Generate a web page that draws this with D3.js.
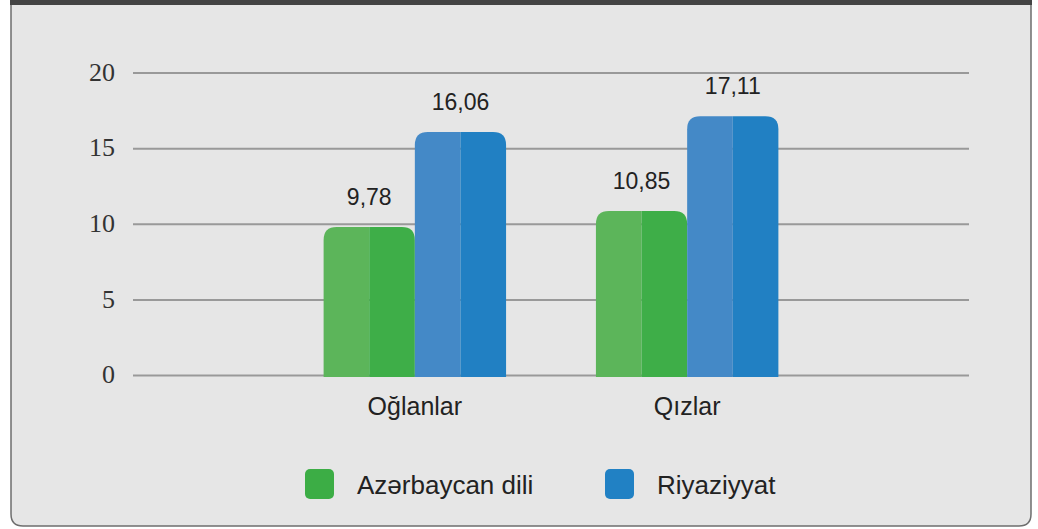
<!DOCTYPE html>
<html>
<head>
<meta charset="utf-8">
<script src="https://cdn.jsdelivr.net/npm/d3@7"></script>
<style>
  body { margin: 0; background: #fff; }
  svg { display: block; }
</style>
</head>
<body>
<div id="chart"></div>
<script>
var svgWidth = 1038;
var svgHeight = 529;

// data
var categories = ["Oğlanlar", "Qızlar"];
var seriesNames = ["Azərbaycan dili", "Riyaziyyat"];
var azValues = [9.78, 10.85];
var riyValues = [16.06, 17.11];
var yTicks = [0, 5, 10, 15, 20];

var lightColors = ["#5cb55a", "#4489c7"];
var darkColors = ["#3eae48", "#2180c3"];
var legendColors = ["#3cad45", "#2181c4"];

var margin = { top: 72.5, right: 69, bottom: 154, left: 133 };
var width = svgWidth - margin.left - margin.right;
var height = svgHeight - margin.top - margin.bottom;

var svg = d3.select("#chart")
  .append("svg")
  .attr("width", svgWidth)
  .attr("height", svgHeight);

// panel background
svg.append("path")
  .attr("d", "M11,0 H1031 V514 Q1031,526 1019,526 H23 Q11,526 11,514 Z")
  .attr("fill", "#e6e6e6")
  .attr("stroke", "#6e6e6e")
  .attr("stroke-width", 1.5);
svg.append("rect")
  .attr("x", 10)
  .attr("y", 0)
  .attr("width", 1022)
  .attr("height", 5)
  .attr("fill", "#444");

var chartGroup = svg.append("g")
  .attr("transform", `translate(${margin.left}, ${margin.top})`);

var x0 = d3.scaleBand()
  .domain(categories)
  .range([0, width])
  .paddingInner(0.33)
  .paddingOuter(0.7);

var x1 = d3.scaleBand()
  .domain(seriesNames)
  .range([0, x0.bandwidth()]);

var yLinearScale = d3.scaleLinear()
  .domain([0, 20])
  .range([height, 0]);

// gridlines + tick labels
var leftAxis = d3.axisLeft(yLinearScale)
  .tickValues(yTicks)
  .tickSize(-width)
  .tickPadding(18);

var yAxis = chartGroup.append("g").call(leftAxis);
yAxis.select(".domain").remove();
yAxis.selectAll(".tick line")
  .attr("stroke", "#999")
  .attr("stroke-width", 2);
yAxis.selectAll(".tick text")
  .attr("font-family", "'Liberation Serif', 'Times New Roman', serif")
  .attr("font-size", 26)
  .attr("fill", "#333")
  .attr("dy", "0.3em");

// bars: two-tone with rounded top corners
var rr = 13;
function halfBar(xl, xr, yt, yb, side) {
  if (side === "left") {
    return `M${xl},${yb} V${yt + rr} Q${xl},${yt} ${xl + rr},${yt} H${xr} V${yb} Z`;
  }
  return `M${xl},${yb} V${yt} H${xr - rr} Q${xr},${yt} ${xr},${yt + rr} V${yb} Z`;
}

var rows = categories.map(function(c, i) {
  return { cat: c, vals: [azValues[i], riyValues[i]] };
});

var groups = chartGroup.selectAll(".grp")
  .data(rows)
  .enter()
  .append("g")
  .attr("transform", d => `translate(${x0(d.cat)}, 0)`);

groups.each(function(d) {
  var g = d3.select(this);
  d.vals.forEach(function(v, j) {
    var xl = x1(seriesNames[j]);
    var bw = x1.bandwidth();
    var yt = yLinearScale(v);
    var yb = yLinearScale(0) + 2;
    g.append("path")
      .attr("d", halfBar(xl, xl + bw / 2, yt, yb, "left"))
      .attr("fill", lightColors[j]);
    g.append("path")
      .attr("d", halfBar(xl + bw / 2, xl + bw, yt, yb, "right"))
      .attr("fill", darkColors[j]);
    g.append("text")
      .attr("x", xl + bw / 2)
      .attr("y", yt - 22)
      .attr("text-anchor", "middle")
      .attr("font-family", "'Liberation Sans', Arial, sans-serif")
      .attr("font-size", 23)
      .attr("fill", "#222")
      .text(String(v.toFixed(2)).replace(".", ","));
  });
});

// category labels
chartGroup.selectAll(".cat")
  .data(categories)
  .enter()
  .append("text")
  .attr("x", d => x0(d) + x0.bandwidth() / 2)
  .attr("y", height + 40)
  .attr("text-anchor", "middle")
  .attr("font-family", "'Liberation Sans', Arial, sans-serif")
  .attr("font-size", 25)
  .attr("fill", "#222")
  .text(d => d);

// legend
var legendX = [305, 605];
var legend = svg.selectAll(".leg")
  .data(seriesNames)
  .enter()
  .append("g")
  .attr("transform", (d, i) => `translate(${legendX[i]}, 469)`);

legend.append("rect")
  .attr("width", 29)
  .attr("height", 30)
  .attr("rx", 5)
  .attr("fill", (d, i) => legendColors[i]);

legend.append("text")
  .attr("x", 52)
  .attr("y", 25)
  .attr("font-family", "'Liberation Sans', Arial, sans-serif")
  .attr("font-size", 26)
  .attr("fill", "#222")
  .text(d => d);
</script>
</body>
</html>
